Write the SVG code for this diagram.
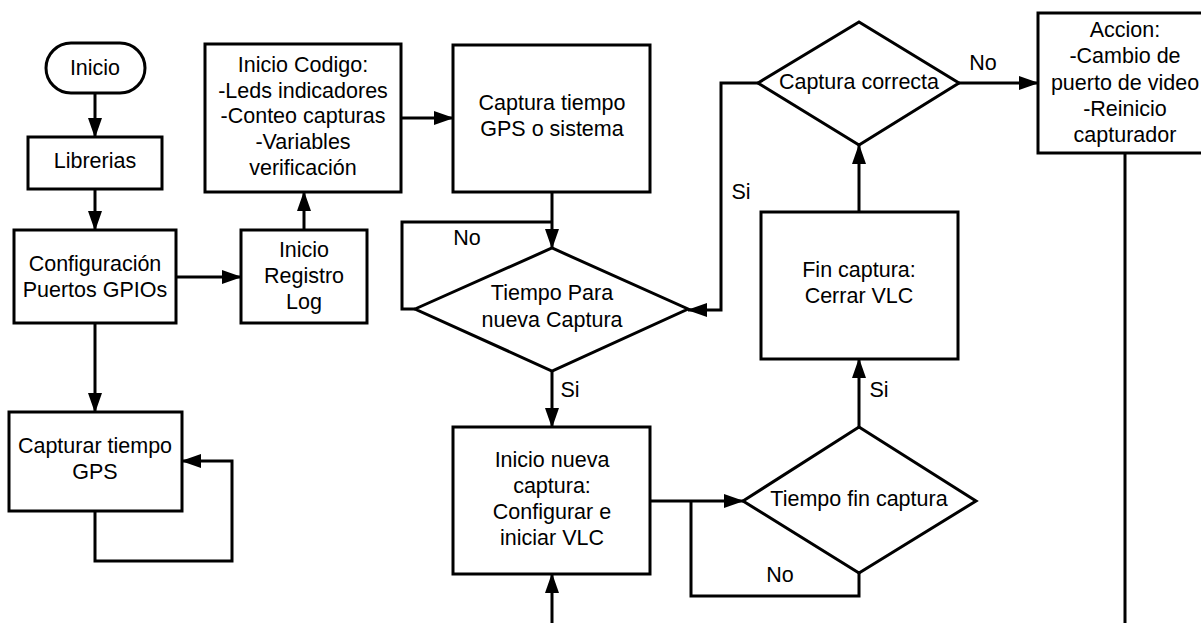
<svg xmlns="http://www.w3.org/2000/svg" width="1201" height="623" viewBox="0 0 1201 623">
  <style>
    .shape { fill: #ffffff; stroke: #000000; stroke-width: 3; }
    .wire { fill: none; stroke: #000000; stroke-width: 3; }
    text { font-family: "Liberation Sans", Arial, sans-serif; font-size: 21.5px; fill: #000000; text-anchor: middle; }
  </style>
  <defs>
    <marker id="arrow" viewBox="0 0 20 14" refX="19" refY="7" markerWidth="20" markerHeight="14" markerUnits="userSpaceOnUse" orient="auto">
      <path d="M0,0 L20,7 L0,14 Z" fill="#000000"/>
    </marker>
  </defs>
  <rect width="1201" height="623" fill="#ffffff"/>

  <!-- connectors -->
  <g id="connectors">
    <path class="wire" d="M95,93 V137" marker-end="url(#arrow)"/>
    <path class="wire" d="M95,189 V230" marker-end="url(#arrow)"/>
    <path class="wire" d="M176,277 H241" marker-end="url(#arrow)"/>
    <path class="wire" d="M304,230 V192" marker-end="url(#arrow)"/>
    <path class="wire" d="M95,323 V412" marker-end="url(#arrow)"/>
    <path class="wire" d="M95,511 V561 H232 V461 H182" marker-end="url(#arrow)"/>
    <path class="wire" d="M401,118 H453" marker-end="url(#arrow)"/>
    <path class="wire" d="M552,192 V248" marker-end="url(#arrow)"/>
    <path class="wire" d="M415,309 H402 V222 H552"/>
    <path class="wire" d="M552,371 V427" marker-end="url(#arrow)"/>
    <path class="wire" d="M552,623 V574" marker-end="url(#arrow)"/>
    <path class="wire" d="M650,501 H743" marker-end="url(#arrow)"/>
    <path class="wire" d="M859,573 V596 H691 V501"/>
    <path class="wire" d="M859,427 V359" marker-end="url(#arrow)"/>
    <path class="wire" d="M859,212 V145" marker-end="url(#arrow)"/>
    <path class="wire" d="M758,83 H721 V310 H688" marker-end="url(#arrow)"/>
    <path class="wire" d="M959,83 H1038" marker-end="url(#arrow)"/>
    <path class="wire" d="M1125,153 V623"/>
    <text x="467" y="245">No</text>
    <text x="570" y="397">Si</text>
    <text x="780" y="582">No</text>
    <text x="879" y="397">Si</text>
    <text x="741" y="199">Si</text>
    <text x="983" y="70">No</text>
  </g>

  <g id="inicio">
    <rect class="shape" x="46" y="43" width="99" height="50" rx="25"/>
    <text x="95" y="75">Inicio</text>
  </g>
  <g id="librerias">
    <rect class="shape" x="28" y="137" width="134" height="52"/>
    <text x="95" y="168">Librerias</text>
  </g>
  <g id="configuracion">
    <rect class="shape" x="14" y="230" width="162" height="93"/>
    <text x="95" y="271">Configuración</text>
    <text x="95" y="297">Puertos GPIOs</text>
  </g>
  <g id="registro">
    <rect class="shape" x="241" y="230" width="126" height="93"/>
    <text x="304" y="257">Inicio</text>
    <text x="304" y="283">Registro</text>
    <text x="304" y="309">Log</text>
  </g>
  <g id="codigo">
    <rect class="shape" x="205" y="44" width="196" height="148"/>
    <text x="303" y="72">Inicio Codigo:</text>
    <text x="303" y="98">-Leds indicadores</text>
    <text x="303" y="123">-Conteo capturas</text>
    <text x="303" y="149">-Variables</text>
    <text x="303" y="175">verificación</text>
  </g>
  <g id="captura-tiempo">
    <rect class="shape" x="453" y="45" width="197" height="147"/>
    <text x="552" y="110">Captura tiempo</text>
    <text x="552" y="136">GPS o sistema</text>
  </g>
  <g id="tiempo-para">
    <polygon class="shape" points="415,309 552,248 688,309 552,371"/>
    <text x="552" y="300">Tiempo Para</text>
    <text x="552" y="327">nueva Captura</text>
  </g>
  <g id="inicio-nueva">
    <rect class="shape" x="453" y="427" width="197" height="147"/>
    <text x="552" y="467">Inicio nueva</text>
    <text x="552" y="493">captura:</text>
    <text x="552" y="519">Configurar e</text>
    <text x="552" y="545">iniciar VLC</text>
  </g>
  <g id="tiempo-fin">
    <polygon class="shape" points="743,501 859,427 976,501 859,573"/>
    <text x="859" y="506">Tiempo fin captura</text>
  </g>
  <g id="fin-captura">
    <rect class="shape" x="761" y="212" width="197" height="147"/>
    <text x="859" y="277">Fin captura:</text>
    <text x="859" y="303">Cerrar VLC</text>
  </g>
  <g id="captura-correcta">
    <polygon class="shape" points="758,83 859,22 959,83 859,145"/>
    <text x="859" y="89">Captura correcta</text>
  </g>
  <g id="accion">
    <rect class="shape" x="1038" y="13" width="174" height="140"/>
    <text x="1125" y="37">Accion:</text>
    <text x="1125" y="63">-Cambio de</text>
    <text x="1125" y="90">puerto de video</text>
    <text x="1125" y="116">-Reinicio</text>
    <text x="1125" y="142">capturador</text>
  </g>
  <g id="capturar-gps">
    <rect class="shape" x="9" y="412" width="173" height="99"/>
    <text x="95" y="453">Capturar tiempo</text>
    <text x="95" y="479">GPS</text>
  </g>
</svg>
